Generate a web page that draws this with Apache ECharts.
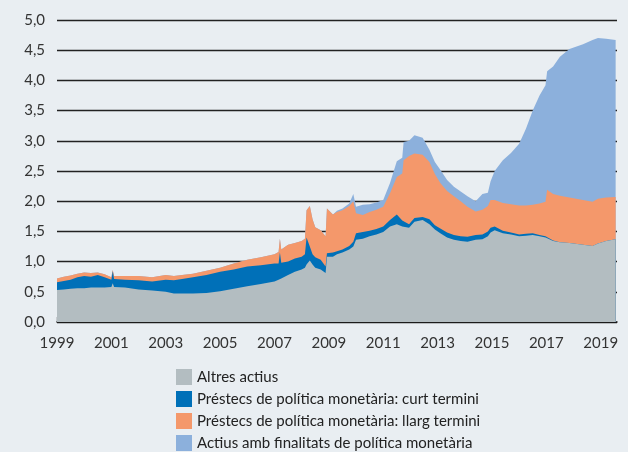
<!DOCTYPE html>
<html>
	<head>
		<meta charset="utf-8">
		<title></title>
		<style type="text/css">
			html,body{
				margin: 0;
				padding: 0;
				background: #e9eef2;
			}
			#main{
				width: 628px;
				height: 452px;
			}
		</style>
	</head>
	<body>
		<div id="main"></div>
	</body>
<script src="https://cdn.jsdelivr.net/npm/echarts@6/dist/echarts.min.js" type="text/javascript" charset="utf-8"></script>

<script type="text/javascript">
	//dates as decimal years
	var dates=[1999.0,1999.25,1999.5,1999.75,2000.0,2000.25,2000.5,2000.75,2001.0,2001.05,2001.1,2001.5,
		2002.0,2002.5,2003.0,2003.3,2003.6,2004.0,2004.5,2005.0,2005.5,2006.0,2006.5,2007.0,2007.15,2007.2,
		2007.25,2007.5,2007.75,2008.0,2008.12,2008.18,2008.3,2008.4,2008.5,2008.7,2008.88,2008.93,2009.15,
		2009.3,2009.5,2009.75,2009.9,2010.0,2010.25,2010.5,2010.75,2011.0,2011.25,2011.5,2011.7,2011.75,
		2011.95,2012.15,2012.45,2012.7,2012.9,2013.1,2013.35,2013.6,2013.85,2014.1,2014.4,2014.65,2014.85,
		2014.95,2015.1,2015.4,2015.7,2016.0,2016.25,2016.5,2016.75,2016.97,2017.03,2017.25,2017.5,2017.85,
		2018.35,2018.7,2018.9,2019.2,2019.55]
	//Altres actius
	var altres=[.53,.54,.55,.56,.56,.57,.57,.57,.58,.64,.58,.57,
		.54,.52,.50,.47,.47,.47,.48,.51,.55,.59,.63,.67,.70,.70,
		.72,.78,.83,.87,.90,.95,1.02,.95,.90,.87,.81,1.08,1.08,
		1.12,1.15,1.20,1.25,1.36,1.38,1.42,1.45,1.49,1.58,1.62,1.58,1.57,
		1.56,1.66,1.69,1.62,1.53,1.47,1.40,1.36,1.34,1.33,1.36,1.37,1.42,
		1.48,1.52,1.47,1.45,1.42,1.43,1.44,1.42,1.40,1.40,1.34,1.32,1.31,
		1.28,1.26,1.30,1.34,1.37]
	//Prestecs curt termini
	var curt=[.13,.14,.15,.18,.20,.18,.21,.17,.12,.20,.13,.13,
		.15,.15,.20,.22,.24,.27,.30,.32,.32,.33,.31,.30,.27,.45,
		.26,.22,.22,.21,.22,.45,.23,.17,.17,.16,.11,.06,.07,
		.05,.05,.06,.08,.11,.11,.09,.09,.09,.11,.16,.10,.09,
		.06,.06,.05,.08,.07,.08,.08,.08,.08,.08,.08,.08,.08,
		.08,.06,.04,.03,.03,.03,.03,.02,.02,.01,.01,0,0,
		0,0,0,0,0]
	//Prestecs llarg termini
	var llarg=[.06,.07,.07,.06,.06,.06,.04,.05,.04,.02,.05,.06,
		.07,.07,.08,.07,.07,.06,.07,.07,.10,.11,.13,.15,.19,.23,
		.22,.28,.26,.26,.26,.45,.67,.58,.50,.49,.50,.74,.63,
		.65,.65,.66,.67,.33,.28,.31,.32,.33,.44,.62,.78,1.02,
		1.13,1.07,1.03,.95,.85,.75,.69,.64,.58,.50,.39,.41,.42,
		.46,.44,.46,.47,.48,.47,.47,.52,.57,.78,.77,.77,.75,
		.74,.73,.74,.72,.70]
	//Actius amb finalitats de politica monetaria
	var actius=[0,0,0,0,0,0,0,0,0,0,0,0,
		0,0,0,0,0,0,0,0,0,0,0,0,0,0,
		0,0,0,0,0,0,0,0,0,0,0,0,0,
		.02,.03,.04,.12,.11,.17,.13,.12,.11,.17,.26,.26,.30,
		.25,.30,.28,.20,.20,.22,.18,.16,.16,.17,.17,.26,.22,
		.31,.48,.71,.85,1.02,1.27,1.56,1.79,1.93,1.96,2.11,2.30,2.46,
		2.58,2.68,2.66,2.63,2.60]

	var names=["Altres actius","Préstecs de política monetària: curt termini",
		"Préstecs de política monetària: llarg termini","Actius amb finalitats de política monetària"]
	var colors=["#b3bdc1","#0070b8","#f4986b","#8cb0dc"]
	var values=[altres,curt,llarg,actius]

	//running totals, top layer first so lower layers are painted over it
	var series=[]
	for(var i=0;i<values.length;i++){
		var pts=[]
		for(var j=0;j<dates.length;j++){
			var sum=0
			for(var k=0;k<=i;k++){sum+=values[k][j]}
			pts.push([dates[j],Math.round(sum*1000)/1000])
		}
		series.unshift({
			name:names[i],
			type:'line',
			data:pts,
			symbol:'none',
			lineStyle:{width:0},
			areaStyle:{color:colors[i],opacity:1},
			itemStyle:{color:colors[i]}
		})
	}

	var font="Lato"
	var chartDom=document.getElementById('main');
	var myChart=echarts.init(chartDom);
	var option={
		backgroundColor:'#e9eef2',
		animation:false,
		grid:{left:57,right:11,top:20,bottom:130},
		legend:{
			orient:'vertical',
			left:176,
			top:369,
			padding:0,
			itemWidth:16,
			itemHeight:16,
			itemGap:6,
			icon:'rect',
			textStyle:{fontFamily:font,fontSize:15,color:'#222'},
			data:names
		},
		xAxis:{
			type:'value',
			min:1999,
			max:2019.6,
			interval:2,
			splitLine:{show:false},
			axisLine:{lineStyle:{color:'#1a1a1a',width:1.5}},
			axisTick:{inside:true,length:5,lineStyle:{color:'#1a1a1a',width:1.3}},
			axisLabel:{
				fontFamily:font,fontSize:15,color:'#333',margin:14,showMaxLabel:false,
				formatter:function(v){return v%1===0?String(v):''}
			}
		},
		yAxis:{
			type:'value',
			min:0,
			max:5,
			interval:0.5,
			axisLine:{show:false},
			axisTick:{show:false},
			splitLine:{lineStyle:{color:'#222',width:1.3}},
			axisLabel:{
				fontFamily:font,fontSize:15,color:'#333',margin:12,
				formatter:function(v){return v.toFixed(1).replace('.',',')}
			}
		},
		series:series
	};
	option && myChart.setOption(option);
</script>
</html>
